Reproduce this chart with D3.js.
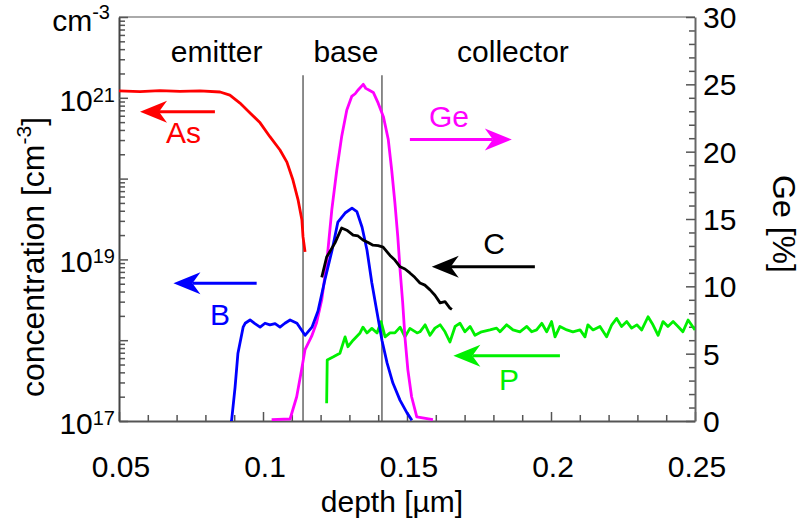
<!DOCTYPE html>
<html>
<head>
<meta charset="utf-8">
<script src="https://cdn.jsdelivr.net/npm/d3@7"></script>
<style>
  body { margin: 0; background: #fff; }
  text { font-family: "Liberation Sans", Arial, sans-serif; }
</style>
</head>
<body>
<svg id="chart" width="801" height="523"></svg>
<script>
// ---- data: [depth (um), value] ----
const asProfile = [
  [0.05, 1.22e21], [0.0573, 1.19e21], [0.0642, 1.23e21], [0.0712, 1.2e21], [0.0781, 1.22e21],
  [0.0851, 1.18e21], [0.0885, 1.08e21], [0.0920, 8.6e20], [0.0955, 6.5e20], [0.0990, 4.9e20],
  [0.1024, 3.3e20], [0.1059, 2.26e20], [0.1083, 1.6e20], [0.1104, 9.6e19], [0.1122, 5.4e19],
  [0.1135, 3.1e19], [0.1139, 1.9e19], [0.1146, 1.24e19]
];
const bProfile = [
  [0.0885, 8e16], [0.0891, 1.02e17], [0.0903, 2.6e17], [0.0913, 6.9e17], [0.0931, 1.45e18],
  [0.0938, 1.62e18], [0.0955, 1.78e18], [0.0972, 1.6e18], [0.0990, 1.45e18], [0.1007, 1.62e18],
  [0.1024, 1.55e18], [0.1042, 1.6e18], [0.1059, 1.45e18], [0.1076, 1.62e18], [0.1094, 1.78e18],
  [0.1118, 1.62e18], [0.1146, 1.15e18], [0.1170, 1.45e18], [0.1191, 2.3e18], [0.1215, 5.6e18],
  [0.1240, 1.31e19], [0.1260, 2.9e19], [0.1285, 3.75e19], [0.1309, 4.3e19], [0.1326, 3.9e19],
  [0.1344, 2.5e19], [0.1361, 1.31e19], [0.1378, 5.1e18], [0.1396, 2.2e18], [0.1413, 1.0e18],
  [0.1431, 5.2e17], [0.1451, 2.95e17], [0.1476, 1.8e17], [0.1500, 1.26e17], [0.1517, 1.02e17]
];
const cProfile = [
  [0.1204, 6.0e18], [0.1221, 1.07e19], [0.1250, 1.6e19], [0.1273, 2.45e19], [0.1291, 2.3e19],
  [0.1313, 2.0e19], [0.1330, 1.95e19], [0.1347, 1.74e19], [0.1365, 1.62e19], [0.1382, 1.5e19],
  [0.1400, 1.48e19], [0.1417, 1.42e19], [0.1441, 1.12e19], [0.1458, 9.8e18], [0.1476, 8.1e18],
  [0.1493, 7.6e18], [0.1510, 6.8e18], [0.1527, 6.0e18], [0.1545, 5.1e18], [0.1562, 4.8e18],
  [0.1580, 4.2e18], [0.1597, 3.6e18], [0.1615, 2.9e18], [0.1632, 3.0e18], [0.1649, 2.5e18],
  [0.1656, 2.4e18]
];
const pProfile = [
  [0.1221, 1.66e17], [0.1223, 5.7e17], [0.1243, 6.2e17], [0.1267, 6.9e17], [0.1285, 1.1e18],
  [0.1295, 8.3e17], [0.1313, 1.0e18], [0.1337, 1.23e18], [0.1347, 1.45e18], [0.1361, 1.23e18],
  [0.1378, 1.4e18], [0.1396, 1.23e18], [0.1410, 1.7e18], [0.1424, 1.1e18], [0.1441, 1.23e18],
  [0.1458, 1.23e18], [0.1476, 1.45e18], [0.1493, 1.1e18], [0.1510, 1.4e18], [0.1535, 1.23e18],
  [0.1545, 1.27e18], [0.1563, 1.55e18], [0.1580, 1.15e18], [0.1597, 1.41e18], [0.1615, 1.55e18],
  [0.1632, 1.27e18], [0.1649, 9.5e17], [0.1667, 1.48e18], [0.1684, 1.62e18], [0.1701, 1.27e18],
  [0.1719, 1.48e18], [0.1736, 1.15e18], [0.1759, 1.27e18], [0.1788, 1.34e18], [0.1811, 1.41e18],
  [0.1823, 1.27e18], [0.1846, 1.55e18], [0.1868, 1.34e18], [0.1892, 1.27e18], [0.1916, 1.48e18],
  [0.1933, 1.27e18], [0.1950, 1.34e18], [0.1968, 1.62e18], [0.1985, 1.27e18], [0.2002, 1.7e18],
  [0.2014, 1.1e18], [0.2031, 1.48e18], [0.2055, 1.34e18], [0.2076, 1.27e18], [0.2101, 1.34e18],
  [0.2118, 1.1e18], [0.2128, 1.55e18], [0.2146, 1.34e18], [0.2170, 1.48e18], [0.2193, 1.1e18],
  [0.2211, 1.55e18], [0.2228, 1.86e18], [0.2245, 1.48e18], [0.2263, 1.7e18], [0.2280, 1.41e18],
  [0.2298, 1.55e18], [0.2315, 1.34e18], [0.2337, 1.95e18], [0.2354, 1.55e18], [0.2372, 1.15e18],
  [0.2389, 1.7e18], [0.2406, 1.48e18], [0.2424, 1.7e18], [0.2441, 1.48e18], [0.2458, 1.27e18],
  [0.2476, 1.78e18], [0.25, 1.34e18]
];
// Ge content in % (right axis)
const geProfile = [
  [0.1030, 0.1], [0.1094, 0.15], [0.1117, 1.8], [0.1134, 3.8], [0.1146, 5.3], [0.1169, 6.3],
  [0.1186, 7.3], [0.1204, 9.0], [0.1221, 11.7], [0.1239, 15.7], [0.1256, 18.6], [0.1273, 21.1],
  [0.1291, 23.1], [0.1308, 24.1], [0.1320, 24.3], [0.1331, 24.6], [0.1348, 25.0], [0.1357, 24.7],
  [0.1366, 24.6], [0.1383, 24.4], [0.1400, 23.6], [0.1418, 22.6], [0.1435, 20.9], [0.1447, 18.6],
  [0.1458, 16.2], [0.1468, 13.7], [0.1476, 11.2], [0.1485, 8.8], [0.1493, 6.2], [0.1503, 3.8],
  [0.1516, 1.8], [0.1534, 0.3], [0.1590, 0.1]
];

const depthTicks = [0.05, 0.1, 0.15, 0.2, 0.25];
const depthTickLabels = ['0.05', '0.1', '0.15', '0.2', '0.25'];
const concTicks = [1e17, 1e19, 1e21];
const concTickLabels = [['10', '17'], ['10', '19'], ['10', '21']];
const geTicks = [0, 5, 10, 15, 20, 25, 30];

const regionNames = ['emitter', 'base', 'collector'];
const regionCenters = [0.0839, 0.1288, 0.1868];
const junctions = [0.1139, 0.1413];

// arrow annotations: from/to depth, level, label position
const concArrows = [
  { name: 'As', color: '#ff0000', from: 0.0833, to: 0.0573, level: 6.7e20, labelX: 0.0724, labelY: 2.75e20 },
  { name: 'B', color: '#0000ff', from: 0.0978, to: 0.0689, level: 5.06e18, labelX: 0.0851, labelY: 1.54e18 },
  { name: 'C', color: '#000000', from: 0.1944, to: 0.1586, level: 8.1e18, labelX: 0.1802, labelY: 1.17e19 },
  { name: 'P', color: '#00f000', from: 0.2031, to: 0.1661, level: 6.4e17, labelX: 0.1854, labelY: 2.42e17 }
];
const geArrow = { name: 'Ge', color: '#ff00ff', from: 0.1510, to: 0.1864, level: 20.9, labelX: 0.1646, labelY: 21.85 };

// ---- layout ----
const plot = { left: 119, right: 695, top: 17, bottom: 421 };
const svg = d3.select('#chart');

const x = d3.scaleLinear().domain([0.05, 0.25]).range([plot.left, plot.right]);
const y = d3.scaleLog().domain([1e17, 1e22]).range([plot.bottom, plot.top]);
const yGe = d3.scaleLinear().domain([0, 30]).range([plot.bottom, plot.top]);

svg.append('defs').append('clipPath').attr('id', 'clip')
  .append('rect')
  .attr('x', plot.left).attr('y', plot.top)
  .attr('width', plot.right - plot.left).attr('height', plot.bottom - plot.top);

// frame
svg.append('line').attr('x1', plot.left).attr('x2', plot.right).attr('y1', plot.top).attr('y2', plot.top)
  .attr('stroke', '#aaa').attr('stroke-width', 2);

// junction lines
svg.selectAll('.junction')
  .data(junctions)
  .enter().append('line')
  .attr('x1', d => x(d)).attr('x2', d => x(d))
  .attr('y1', y(1.9e21)).attr('y2', plot.bottom)
  .attr('stroke', '#666').attr('stroke-width', 1.5);

// axes (ticks point inward)
const minorDepth = d3.range(6, 25).map(i => i / 100).filter(v => !depthTicks.some(t => Math.abs(t - v) < 1e-9));
svg.append('g').attr('transform', 'translate(0,' + plot.bottom + ')')
  .call(d3.axisBottom(x).tickValues(minorDepth).tickSize(-6).tickFormat(''))
  .call(g => g.select('.domain').remove());
svg.append('g').attr('transform', 'translate(0,' + plot.bottom + ')')
  .call(d3.axisBottom(x).tickValues(depthTicks).tickSize(-9).tickSizeOuter(0).tickFormat(''))
  .call(g => g.select('.domain').attr('stroke', '#555').attr('stroke-width', 2));

const minorConc = [];
for (let e = 17; e < 22; e++) for (let m = 2; m <= 9; m++) minorConc.push(m * Math.pow(10, e));
svg.append('g').attr('transform', 'translate(' + plot.left + ',0)')
  .call(d3.axisLeft(y).tickValues(minorConc).tickSize(-6).tickFormat(''))
  .call(g => g.select('.domain').remove());
svg.append('g').attr('transform', 'translate(' + plot.left + ',0)')
  .call(d3.axisLeft(y).tickValues([1e17, 1e18, 1e19, 1e20, 1e21, 1e22]).tickSize(-9).tickSizeOuter(0).tickFormat(''))
  .call(g => g.select('.domain').attr('stroke', '#444').attr('stroke-width', 2));

const minorGe = d3.range(1, 30).filter(v => v % 5 !== 0);
svg.append('g').attr('transform', 'translate(' + plot.right + ',0)')
  .call(d3.axisRight(yGe).tickValues(minorGe).tickSize(-6).tickFormat(''))
  .call(g => g.select('.domain').remove());
svg.append('g').attr('transform', 'translate(' + plot.right + ',0)')
  .call(d3.axisRight(yGe).tickValues(geTicks).tickSize(-9).tickSizeOuter(0).tickFormat(''))
  .call(g => g.select('.domain').attr('stroke', '#666').attr('stroke-width', 2));

svg.selectAll('.tick line').attr('stroke', '#555').attr('stroke-width', 1.5);

// tick labels
svg.selectAll('.xlab')
  .data(depthTicks)
  .enter().append('text')
  .attr('x', d => x(d) + 2).attr('y', 477)
  .attr('text-anchor', 'middle').attr('font-size', 30)
  .text((d, i) => depthTickLabels[i]);

const concLab = svg.selectAll('.ylab')
  .data(concTicks)
  .enter().append('text')
  .attr('x', 115).attr('y', d => y(d) + 13)
  .attr('text-anchor', 'end').attr('font-size', 30);
concLab.append('tspan').text((d, i) => concTickLabels[i][0]);
concLab.append('tspan').attr('font-size', 20).attr('dy', -9).text((d, i) => concTickLabels[i][1]);

const unitLab = svg.append('text').attr('x', 110).attr('y', y(1e22) + 14)
  .attr('text-anchor', 'end').attr('font-size', 30);
unitLab.append('tspan').text('cm');
unitLab.append('tspan').attr('font-size', 20).attr('dy', -12).text('-3');

svg.selectAll('.gelab')
  .data(geTicks)
  .enter().append('text')
  .attr('x', 703).attr('y', d => yGe(d) + 11)
  .attr('font-size', 30)
  .text(d => d);

// axis titles
svg.append('text').attr('x', 392).attr('y', 512)
  .attr('text-anchor', 'middle').attr('font-size', 30).text('depth [µm]');

const concTitle = svg.append('text')
  .attr('transform', 'translate(44,257) rotate(-90)')
  .attr('text-anchor', 'middle').attr('font-size', 32);
concTitle.append('tspan').text('concentration [cm');
concTitle.append('tspan').attr('font-size', 21).attr('dy', -13).text('-3');
concTitle.append('tspan').attr('dy', 13).text(']');

svg.append('text')
  .attr('transform', 'translate(773,224) rotate(90)')
  .attr('text-anchor', 'middle').attr('font-size', 32).text('Ge [%]');

// region labels
svg.selectAll('.region')
  .data(regionNames)
  .enter().append('text')
  .attr('x', (d, i) => x(regionCenters[i])).attr('y', 62)
  .attr('text-anchor', 'middle').attr('font-size', 30)
  .text(d => d);

// profiles
const concLine = d3.line().x(d => x(d[0])).y(d => y(d[1]));
const geLine = d3.line().x(d => x(d[0])).y(d => yGe(d[1]));
const curves = svg.append('g').attr('clip-path', 'url(#clip)')
  .attr('fill', 'none').attr('stroke-width', 2.8).attr('stroke-linejoin', 'round');

curves.append('path').datum(asProfile).attr('d', concLine).attr('stroke', '#ff0000');
curves.append('path').datum(pProfile).attr('d', concLine).attr('stroke', '#00f000');
curves.append('path').datum(geProfile).attr('d', geLine).attr('stroke', '#ff00ff');
curves.append('path').datum(bProfile).attr('d', concLine).attr('stroke', '#0000ff');
curves.append('path').datum(cProfile).attr('d', concLine).attr('stroke', '#000000');

// arrows
function drawArrow(a, yScale) {
  const x0 = x(a.from), x1 = x(a.to), yy = yScale(a.level);
  const dir = x1 > x0 ? 1 : -1;
  const len = 27, notch = 19, half = 11;
  svg.append('line')
    .attr('x1', x0).attr('x2', x1 - dir * notch).attr('y1', yy).attr('y2', yy)
    .attr('stroke', a.color).attr('stroke-width', 3);
  svg.append('path')
    .attr('d', 'M' + x1 + ',' + yy +
      'L' + (x1 - dir * len) + ',' + (yy - half) +
      'L' + (x1 - dir * notch) + ',' + yy +
      'L' + (x1 - dir * len) + ',' + (yy + half) + 'Z')
    .attr('fill', a.color);
  svg.append('text')
    .attr('x', x(a.labelX)).attr('y', yScale(a.labelY))
    .attr('text-anchor', 'middle').attr('font-size', 30)
    .attr('fill', a.color).text(a.name);
}
concArrows.forEach(a => drawArrow(a, y));
drawArrow(geArrow, yGe);
</script>
</body>
</html>
